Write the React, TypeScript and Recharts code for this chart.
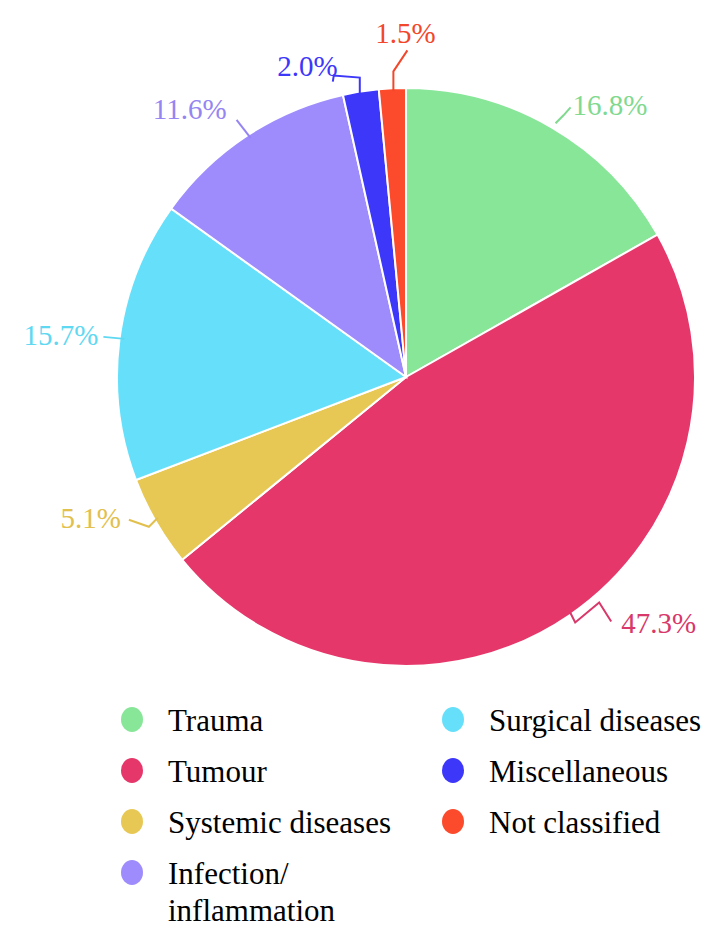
import React from "react";
import { PieChart, Pie, Cell, Legend } from "recharts";

const categories = [
  "Trauma",
  "Tumour",
  "Systemic diseases",
  "Surgical diseases",
  "Infection/inflammation",
  "Miscellaneous",
  "Not classified",
];
const percentages = [16.8, 47.3, 5.1, 15.7, 11.6, 2.0, 1.5];
const colors = ["#87E698", "#E6376A", "#E8C855", "#66E0FA", "#9E8CFC", "#3D37FA", "#FC4A2C"];
const labelColors = ["#7FD98F", "#D8386A", "#E2C04E", "#5FD8F2", "#9585F2", "#3D37FA", "#F2472B"];
const legendColumns = [
  ["Trauma", "Tumour", "Systemic diseases", "Infection/inflammation"],
  ["Surgical diseases", "Miscellaneous", "Not classified"],
];

const data = categories.map((name, i) => ({ name, value: percentages[i] }));

const leaders: { pts: number[][]; text: number[]; anchor: "start" | "end" | "middle" }[] = [
  { pts: [[4, -4], [12, -12], [19, -20]], text: [21, -22], anchor: "start" },
  { pts: [[1, -3], [6, 7], [30, -13], [42, 6]], text: [52, 7], anchor: "start" },
  { pts: [[2, -4], [-7, 5], [-27, -2]], text: [-35, -4], anchor: "end" },
  { pts: [[5, -1], [-16, -3]], text: [-21, -5], anchor: "end" },
  { pts: [[4, 2], [-10, -16]], text: [-20, -27], anchor: "end" },
  { pts: [[-1, 4], [-1, -14], [-27, -16], [-28, -10]], text: [-23, -26], anchor: "end" },
  { pts: [[1, 3], [1, -17], [15, -38]], text: [13, -55], anchor: "middle" },
];

const RAD = Math.PI / 180;
const FONT = "Liberation Serif, DejaVu Serif, serif";

const renderLabel = (props: any) => {
  const { cx, cy, midAngle, outerRadius, index, value } = props;
  const ex = cx + outerRadius * Math.cos(-midAngle * RAD);
  const ey = cy + outerRadius * Math.sin(-midAngle * RAD);
  const L = leaders[index];
  const pts = L.pts.map(([dx, dy]) => `${ex + dx},${ey + dy}`).join(" ");
  return (
    <g key={`lbl-${index}`}>
      <polyline points={pts} fill="none" stroke={labelColors[index]} strokeWidth={2} />
      <text
        x={ex + L.text[0]}
        y={ey + L.text[1]}
        textAnchor={L.anchor}
        dominantBaseline="central"
        fill={labelColors[index]}
        style={{ fontFamily: FONT }}
        fontSize={29}
      >
        {value.toFixed(1)}%
      </text>
    </g>
  );
};

const renderLegend = () => {
  const colLeft = [113, 434];
  return (
    <div style={{ position: "relative", width: 717, height: 240 }}>
      {legendColumns.map((col, ci) =>
        col.map((name, ri) => {
          const idx = categories.indexOf(name);
          const parts = name.includes("/") ? [name.split("/")[0] + "/", name.split("/")[1]] : [name];
          return (
            <div
              key={name}
              style={{
                position: "absolute",
                left: colLeft[ci],
                top: ri * 51,
                display: "flex",
                alignItems: "flex-start",
              }}
            >
              <div
                style={{
                  width: 22,
                  height: 25,
                  borderRadius: "50%",
                  background: colors[idx],
                  marginTop: 5,
                  flex: "none",
                }}
              />
              <div
                style={{
                  marginLeft: 25,
                  fontFamily: FONT,
                  fontSize: 31,
                  lineHeight: "37px",
                  color: "#000",
                  whiteSpace: "nowrap",
                }}
              >
                {parts.map((p, k) => (
                  <div key={k}>{p}</div>
                ))}
              </div>
            </div>
          );
        })
      )}
    </div>
  );
};

export default function App() {
  return (
    <div style={{ width: 717, height: 934, overflow: "hidden", background: "#fff", fontFamily: FONT }}>
      <PieChart width={717} height={934} margin={{ top: 0, right: 0, bottom: 0, left: 0 }} style={{ fontFamily: FONT }}>
        <Pie
          data={data}
          dataKey="value"
          nameKey="name"
          cx={398}
          cy={369}
          outerRadius={289}
          startAngle={90}
          endAngle={-270}
          stroke="#fff"
          strokeWidth={2}
          label={renderLabel}
          labelLine={false}
          isAnimationActive={false}
        >
          {data.map((d, i) => (
            <Cell key={d.name} fill={colors[i]} />
          ))}
        </Pie>
        <Legend
          content={renderLegend}
          wrapperStyle={{ position: "absolute", top: 694, left: 0, width: 717, height: 240 }}
        />
      </PieChart>
    </div>
  );
}
